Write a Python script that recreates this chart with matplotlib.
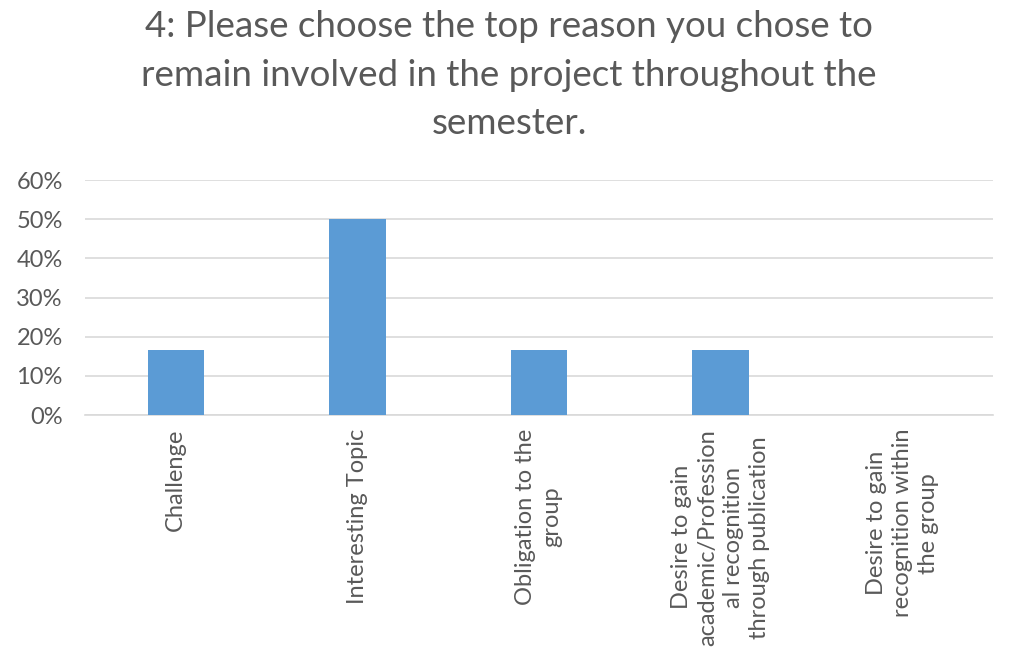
import matplotlib.pyplot as plt
from matplotlib.ticker import PercentFormatter

# survey question 4 - share of respondents per reason
reasons = [
    "Challenge",
    "Interesting Topic",
    "Obligation to the\ngroup",
    "Desire to gain\nacademic/Profession\nal recognition\nthrough publication",
    "Desire to gain\nrecognition within\nthe group",
]
shares = [1 / 6, 0.5, 1 / 6, 1 / 6, 0.0]

grey = "#595959"
plt.rcParams["font.family"] = ["Lato", "DejaVu Sans"]

fig = plt.figure(figsize=(10.18, 6.67), dpi=100)
ax = fig.add_axes([0.0835, 0.3778, 0.892, 0.3523])

x = range(len(reasons))
ax.bar(x, shares, width=0.31, color="#5b9bd5", zorder=3)

ax.set_xlim(-0.5, len(reasons) - 0.5)
ax.set_ylim(0, 0.6)
ax.set_yticks([0, 0.1, 0.2, 0.3, 0.4, 0.5, 0.6])
ax.yaxis.set_major_formatter(PercentFormatter(1.0, decimals=0))
ax.grid(axis="y", color="#d9d9d9", linewidth=1.2, zorder=0)
for s in ["top", "right", "left"]:
    ax.spines[s].set_visible(False)
ax.spines["bottom"].set_color("#d9d9d9")
ax.spines["bottom"].set_linewidth(1.2)
ax.tick_params(axis="both", length=0, colors=grey, labelsize=17)
ax.tick_params(axis="y", pad=16)

ax.set_xticks(list(x))
ax.set_xticklabels(reasons, rotation=90, ha="center", va="top",
                   multialignment="center", linespacing=1.3)
ax.tick_params(axis="x", pad=10)

fig.text(0.5, 0.985,
         "4: Please choose the top reason you chose to\n"
         "remain involved in the project throughout the\nsemester.",
         ha="center", va="top", fontsize=26.5, color=grey, linespacing=1.58)

fig.savefig("out.png", dpi=100)
